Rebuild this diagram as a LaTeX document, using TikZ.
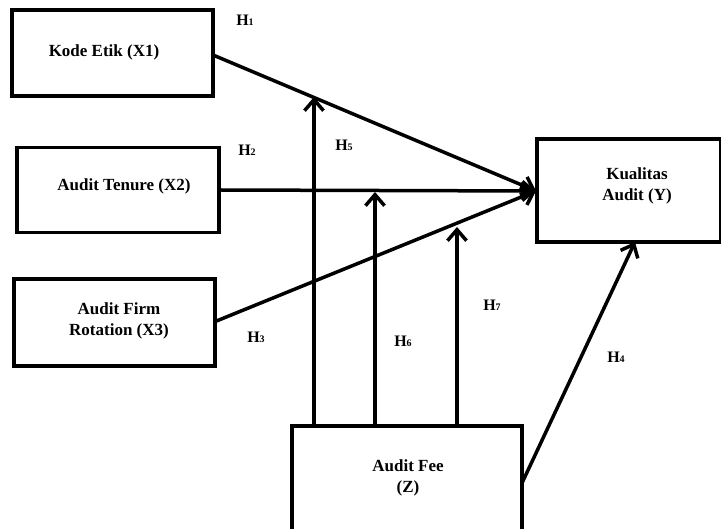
\documentclass[tikz,border=0pt]{standalone}
\usepackage{fontspec}
\setmainfont{Liberation Serif}
\usetikzlibrary{arrows.meta,calc}
\begin{document}
\begin{tikzpicture}[x=1pt,y=-1pt,
  box/.style={draw,line width=3.2pt,inner sep=0pt,minimum width=#1},
  lbl/.style={font=\bfseries\fontsize{17}{21}\selectfont,align=center,inner sep=0pt},
  hyp/.style={font=\bfseries\fontsize{16}{18}\selectfont,inner sep=0pt},
  conn/.style={line width=3.5pt,-{Straight Barb[length=11pt,width=19pt,line width=3.5pt]}},
  plain/.style={line width=3.5pt}]
\useasboundingbox (0,0) rectangle (721,529);
% boxes
\node[box=201pt,minimum height=86pt] (X1) at (112.5,53) {};
\node[box=202pt,minimum height=85pt] (X2) at (118,190) {};
\node[box=201pt,minimum height=87pt] (X3) at (114.5,322.5) {};
\node[box=184pt,minimum height=103pt] (Y) at (629,190.5) {};
\node[box=230pt,minimum height=112pt] (Z) at (407,482) {};
% texts
\node[lbl] (tX1) at (104,52) {Kode Etik (X1)};
\node[lbl] (tX2) at (124,186) {Audit Tenure (X2)};
\node[lbl] (tX3) at (119,321) {Audit Firm\\Rotation (X3)};
\node[lbl] (tY) at (637,186) {Kualitas\\Audit (Y)};
\node[lbl] (tZ) at (408,478) {Audit Fee\\(Z)};
% hypothesis labels
\node[hyp] (h1) at (245,20) {H{\fontsize{10}{10}\selectfont 1}};
\node[hyp] (h2) at (247,150) {H{\fontsize{10}{10}\selectfont 2}};
\node[hyp] (h3) at (256,337) {H{\fontsize{10}{10}\selectfont 3}};
\node[hyp] (h4) at (616,357) {H{\fontsize{10}{10}\selectfont 4}};
\node[hyp] (h5) at (344,145) {H{\fontsize{10}{10}\selectfont 5}};
\node[hyp] (h6) at (403,341) {H{\fontsize{10}{10}\selectfont 6}};
\node[hyp] (h7) at (492,305) {H{\fontsize{10}{10}\selectfont 7}};
% connector points
\coordinate (tipY) at (536,191);
\coordinate (s1) at (213,55);
\coordinate (s3) at (214,322);
\coordinate (m1) at (314,97);
\coordinate (m2) at (375,192);
\coordinate (m3) at (457,227);
\coordinate (s4) at (522,483);
\coordinate (tip4) at (635,242);
% connectors
\draw[conn] (s1) -- (tipY);
\draw[conn] (X2.east) -- (tipY);
\draw[conn] (s3) -- (tipY);
\draw[conn] (Z.north -| m1) -- (m1);
\draw[conn] (Z.north -| m2) -- (m2);
\draw[conn] (Z.north -| m3) -- (m3);
\draw[conn] (s4) -- (tip4);
\end{tikzpicture}
\end{document}
